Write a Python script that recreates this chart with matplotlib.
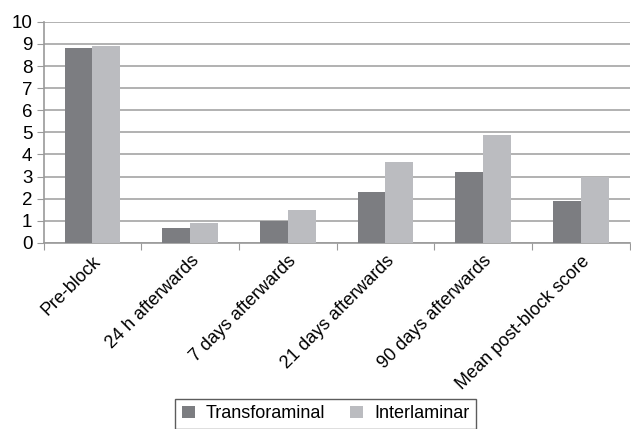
import matplotlib
matplotlib.use("Agg")
import matplotlib.pyplot as plt
import numpy as np

categories = ["Pre-block", "24 h afterwards", "7 days afterwards",
              "21 days afterwards", "90 days afterwards", "Mean post-block score"]
transforaminal = [8.8, 0.65, 1.0, 2.3, 3.2, 1.9]
interlaminar = [8.9, 0.9, 1.5, 3.65, 4.9, 3.0]
y_ticks = list(range(0, 11))

plt.rcParams["font.family"] = ["Liberation Sans", "DejaVu Sans"]

fig = plt.figure(figsize=(6.31, 4.29), dpi=100)
ax = fig.add_axes([0.069, 0.434, 0.929, 0.515])

x = np.arange(len(categories))
w = 0.285
ax.bar(x - w / 2, transforaminal, w, color="#7c7d81", label="Transforaminal", zorder=3)
ax.bar(x + w / 2, interlaminar, w, color="#bbbcc0", label="Interlaminar", zorder=3)

ax.set_xlim(-0.5, len(categories) - 0.5)
ax.set_ylim(0, 10)
ax.set_yticks(y_ticks)
ax.yaxis.grid(True, color="#a4a4a4", linewidth=1.2, zorder=0)

# category boundary ticks below the axis, labels at the centres
ax.set_xticks(np.arange(-0.5, len(categories)), minor=False)
ax.set_xticklabels([])
ax.set_xticks(x, minor=True)
ax.set_xticklabels(categories, minor=True, rotation=45, ha="right",
                   rotation_mode="anchor", fontsize=13)
ax.tick_params(axis="x", which="minor", length=0, pad=7)
ax.tick_params(axis="x", which="major", length=5, color="#999999")
ax.tick_params(axis="y", length=5, color="#999999", labelsize=13.5, pad=3)

for s in ["top", "right"]:
    ax.spines[s].set_visible(False)
ax.spines["left"].set_color("#999999")
ax.spines["bottom"].set_color("#999999")
ax.spines["left"].set_linewidth(1.2)
ax.spines["bottom"].set_linewidth(1.2)

leg = fig.legend(loc="upper center", bbox_to_anchor=(0.516, 0.07), ncol=2,
                 frameon=True, fancybox=False, fontsize=13,
                 handlelength=0.72, handleheight=0.72, handletextpad=0.6,
                 columnspacing=1.4, borderpad=0.35, borderaxespad=0)
leg.get_frame().set_edgecolor("#333333")
leg.get_frame().set_linewidth(1.0)

fig.savefig("out.png", dpi=100)
